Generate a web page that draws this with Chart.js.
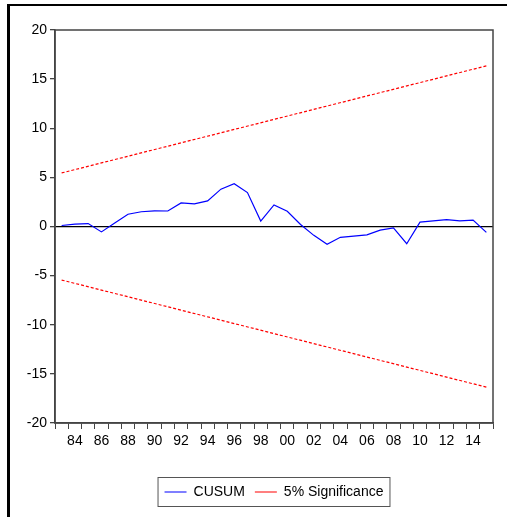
<!DOCTYPE html>
<html>
<head>
<meta charset="utf-8">
<script src="https://cdn.jsdelivr.net/npm/chart.js@4.4.1/dist/chart.umd.min.js"></script>
<style>
  html, body { margin: 0; padding: 0; background: #fff; overflow: hidden; }
  #wrap { position: absolute; left: 0; top: 0; width: 507px; height: 517px; }
  #frame { position: absolute; left: 7px; top: 4px; width: 520px; height: 530px;
           border-top: 2px solid #000; border-left: 3px solid #000; pointer-events: none; }
</style>
</head>
<body>
<div id="wrap"><canvas id="cusum"></canvas></div>
<div id="frame"></div>
<script>
const years = [1983, 1984, 1985, 1986, 1987, 1988, 1989, 1990, 1991, 1992, 1993,
               1994, 1995, 1996, 1997, 1998, 1999, 2000, 2001, 2002, 2003, 2004,
               2005, 2006, 2007, 2008, 2009, 2010, 2011, 2012, 2013, 2014, 2015];
const cusum = [0.1, 0.25, 0.3, -0.55, 0.35, 1.25, 1.5, 1.6, 1.58, 2.4, 2.3,
               2.6, 3.8, 4.35, 3.45, 0.55, 2.2, 1.55, 0.2, -0.9, -1.8, -1.1,
               -0.98, -0.85, -0.37, -0.14, -1.75, 0.45, 0.58, 0.7, 0.58, 0.65, -0.6];
// 5% bounds, start and end values (straight lines)
const upperBand = [5.45, 16.35];
const lowerBand = [-5.45, -16.35];
const yTicks = [-20, -15, -10, -5, 0, 5, 10, 15, 20];

const fontFam = "'Liberation Sans Narrow', 'Arial Narrow', 'Liberation Sans', sans-serif";

function bandPoints(band) {
    return [{x: years[0], y: band[0]}, {x: years[years.length - 1], y: band[1]}];
}

// box round plot area and round legend, legend centred under plot
const boxPlugin = {
    id: 'boxes',
    afterLayout(chart) {
        const lg = chart.legend;
        const a = chart.chartArea;
        const shift = (a.left + a.right) / 2 - (lg.left + lg.right) / 2;
        lg.left += shift;
        lg.right += shift;
    },
    afterDraw(chart) {
        const ctx = chart.ctx;
        const a = chart.chartArea;
        ctx.save();
        ctx.strokeStyle = '#444';
        ctx.lineWidth = 1.5;
        ctx.strokeRect(a.left, a.top, a.right - a.left, a.bottom - a.top);
        const hb = chart.legend.legendHitBoxes;
        if (hb && hb.length) {
            const x0 = hb[0].left - 7;
            const last = hb[hb.length - 1];
            const x1 = last.left + last.width + 6;
            const y0 = hb[0].top - 8;
            const y1 = hb[0].top + hb[0].height + 7;
            ctx.lineWidth = 1;
            ctx.strokeStyle = '#555';
            ctx.strokeRect(x0 + 0.5, y0 + 0.5, x1 - x0, y1 - y0);
        }
        ctx.restore();
    }
};

const data = {
    labels: years,
    datasets: [
        {
            label: 'CUSUM',
            data: cusum,
            borderColor: '#0000ff',
            borderWidth: 1.2,
            pointRadius: 0,
            tension: 0
        },
        {
            label: '5% Significance',
            data: bandPoints(upperBand),
            borderColor: '#ff0000',
            borderWidth: 1.2,
            borderDash: [3, 2],
            pointRadius: 0
        },
        {
            label: 'lower',
            data: bandPoints(lowerBand),
            borderColor: '#ff0000',
            borderWidth: 1.2,
            borderDash: [3, 2],
            pointRadius: 0
        }
    ]
};

const config = {
    type: 'line',
    data: data,
    options: {
        responsive: true,
        maintainAspectRatio: false,
        animation: false,
        layout: { padding: { left: 8, right: 14, top: 30, bottom: 8 } },
        plugins: {
            tooltip: { enabled: false },
            legend: {
                position: 'bottom',
                labels: {
                    filter: item => item.text !== 'lower',
                    usePointStyle: true,
                    pointStyle: 'line',
                    pointStyleWidth: 22,
                    boxHeight: 10,
                    padding: 10,
                    color: '#000',
                    font: { family: fontFam, size: 14 }
                }
            }
        },
        scales: {
            x: {
                type: 'category',
                offset: true,
                grid: {
                    offset: true,
                    drawOnChartArea: false,
                    tickLength: 6,
                    color: '#444'
                },
                border: { color: '#444', width: 1.5 },
                ticks: {
                    autoSkip: false,
                    maxRotation: 0,
                    color: '#000',
                    padding: 4,
                    font: { family: fontFam, size: 14 },
                    callback: function(v, i) {
                        const yr = years[i];
                        return yr % 2 === 0 ? String(yr).slice(2) : '';
                    }
                },
                afterFit: s => { s.height = 52; }
            },
            y: {
                min: -20,
                max: 20,
                afterBuildTicks: s => { s.ticks = yTicks.map(v => ({value: v})); },
                grid: {
                    color: c => (c.tick && c.tick.value === 0) ? '#000' : 'rgba(0,0,0,0)',
                    lineWidth: 1.3,
                    tickColor: '#444',
                    tickLength: 5
                },
                border: { color: '#444', width: 1.5 },
                ticks: {
                    color: '#000',
                    padding: 3,
                    font: { family: fontFam, size: 14 }
                },
                afterFit: s => { s.width = 47; }
            }
        }
    },
    plugins: [boxPlugin]
};

let ctx = document.getElementById('cusum').getContext('2d');
new Chart(ctx, config);
</script>
</body>
</html>
